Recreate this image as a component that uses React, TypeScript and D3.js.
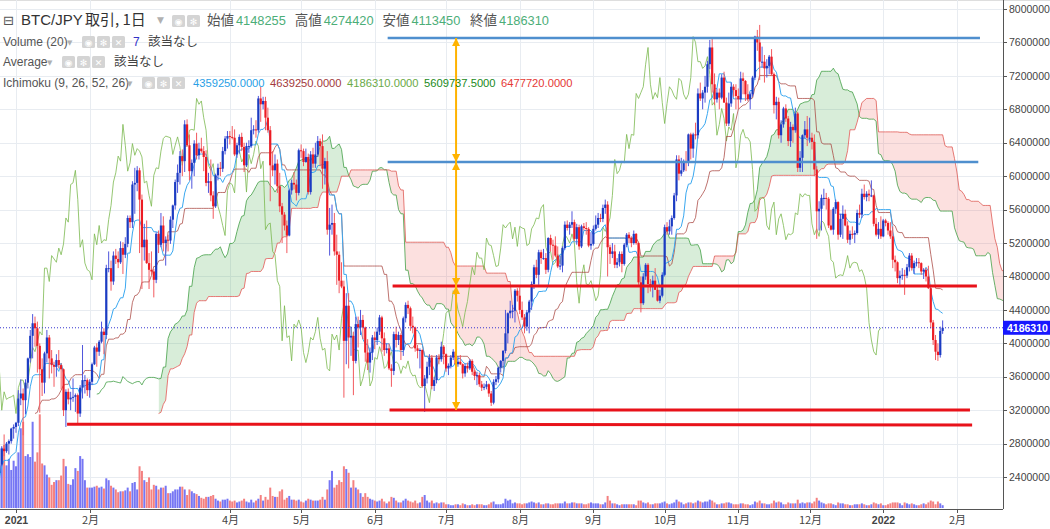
import * as d3 from "d3";

// one row per day: open, high, low, close (in 10,000 JPY), volume
type Row = [number, number, number, number, number];

const FIRST_DAY = "2020-12-15";
const PRICE_UNIT = 10000;

const dec20: Row[] = [
  [199, 202, 197, 201, 32], [201, 222, 200, 220, 55], [220, 245, 219, 236, 70], [236, 241, 229, 239, 48], [239, 249, 237, 247, 40],
  [247, 250, 238, 243, 38], [243, 250, 229, 235, 45], [235, 247, 232, 246, 42], [246, 250, 232, 240, 50], [240, 247, 235, 245, 40],
  [245, 257, 242, 255, 45], [255, 277, 253, 274, 65], [274, 291, 265, 271, 68], [271, 282, 269, 280, 46], [280, 285, 267, 283, 53],
  [283, 299, 280, 298, 41], [298, 303, 286, 300, 51],
];
const jan21: Row[] = [
  [300, 306, 293, 305, 45], [305, 344, 301, 334, 60], [334, 357, 326, 340, 86], [340, 346, 290, 332, 93], [332, 357, 315, 353, 56],
  [353, 383, 346, 382, 58], [382, 416, 377, 409, 55], [409, 435, 382, 424, 93], [424, 432, 396, 418, 50], [418, 426, 365, 397, 60],
  [397, 400, 317, 369, 101], [369, 382, 337, 353, 48], [353, 390, 340, 388, 46], [388, 416, 377, 407, 36], [407, 410, 358, 382, 33],
  [382, 392, 364, 374, 25], [374, 378, 348, 372, 28], [372, 387, 360, 380, 30], [380, 392, 370, 374, 30], [374, 376, 345, 369, 35],
  [369, 370, 313, 320, 53], [320, 345, 300, 342, 45], [342, 346, 327, 333, 26], [333, 342, 320, 335, 25], [335, 358, 330, 336, 31],
  [336, 340, 318, 338, 43], [338, 340, 304, 316, 40], [316, 350, 312, 347, 56], [347, 398, 334, 356, 53], [356, 362, 340, 356, 30],
  [356, 358, 337, 344, 22],
];
const feb21: Row[] = [
  [344, 357, 335, 354, 22], [354, 377, 350, 375, 22], [375, 397, 374, 395, 23], [395, 400, 372, 390, 24], [390, 404, 385, 402, 22],
  [402, 426, 400, 414, 23], [414, 418, 387, 410, 21], [410, 494, 405, 490, 32], [490, 510, 485, 490, 30], [490, 499, 463, 474, 24],
  [474, 510, 470, 505, 22], [505, 513, 495, 501, 20], [501, 510, 490, 497, 17], [497, 522, 495, 514, 18], [514, 521, 483, 506, 18],
  [506, 527, 502, 519, 19], [519, 553, 515, 550, 22], [550, 553, 538, 545, 18], [545, 594, 538, 590, 27], [590, 610, 555, 592, 28],
  [592, 612, 582, 607, 20], [607, 610, 508, 572, 45], [572, 578, 465, 515, 40], [515, 543, 499, 524, 30], [524, 547, 495, 496, 28],
  [496, 508, 465, 488, 33], [488, 510, 482, 486, 20], [486, 489, 455, 476, 25],
];
const mar21: Row[] = [
  [476, 533, 472, 531, 24], [531, 535, 508, 518, 20], [518, 556, 515, 541, 22], [541, 552, 510, 520, 22], [520, 528, 493, 524, 24],
  [524, 530, 510, 523, 16], [523, 552, 519, 548, 16], [548, 566, 538, 565, 18], [565, 596, 560, 593, 20], [593, 614, 580, 604, 20],
  [604, 630, 590, 624, 23], [624, 632, 600, 618, 23], [618, 667, 605, 662, 20], [662, 668, 635, 637, 14], [637, 650, 595, 606, 20],
  [606, 620, 585, 616, 18], [616, 643, 600, 639, 16], [639, 652, 620, 625, 15], [625, 640, 620, 633, 13], [633, 646, 628, 630, 11],
  [630, 636, 606, 623, 10], [623, 631, 588, 592, 12], [592, 604, 580, 594, 12], [594, 620, 570, 577, 13], [577, 582, 549, 564, 14],
  [564, 603, 562, 601, 10], [601, 615, 595, 610, 8], [610, 617, 600, 609, 7], [609, 635, 605, 630, 9], [630, 648, 626, 645, 9],
  [645, 654, 633, 648, 10],
];
const apr21: Row[] = [
  [648, 654, 638, 647, 8], [647, 660, 644, 646, 7], [646, 656, 624, 626, 8], [626, 640, 622, 637, 6], [637, 650, 627, 647, 7],
  [647, 652, 630, 635, 8], [635, 640, 605, 613, 10], [613, 640, 611, 636, 7], [636, 643, 628, 636, 6], [636, 670, 634, 655, 9],
  [655, 661, 650, 656, 6], [656, 667, 646, 655, 8], [655, 696, 652, 693, 10], [693, 707, 665, 686, 14], [686, 695, 680, 690, 8],
  [690, 695, 655, 670, 12], [670, 682, 652, 655, 9], [655, 660, 570, 613, 22], [613, 630, 600, 607, 13], [607, 626, 590, 615, 12],
  [615, 620, 580, 588, 12], [588, 604, 557, 564, 18], [564, 568, 520, 554, 20], [554, 557, 535, 541, 9], [541, 547, 508, 529, 11],
  [529, 585, 528, 583, 13], [583, 596, 578, 592, 9], [592, 605, 584, 590, 9], [590, 596, 571, 580, 8], [580, 633, 577, 631, 9],
];
const may21: Row[] = [
  [631, 638, 622, 630, 7], [630, 633, 612, 617, 6], [617, 633, 616, 623, 8], [623, 627, 578, 581, 10], [581, 630, 578, 626, 9],
  [626, 634, 610, 615, 8], [615, 640, 610, 626, 8], [626, 648, 623, 642, 8], [642, 645, 612, 636, 9], [636, 650, 585, 609, 12],
  [609, 622, 590, 618, 9], [618, 630, 530, 536, 20], [536, 562, 505, 542, 30], [542, 566, 530, 544, 40], [544, 556, 505, 510, 22],
  [510, 530, 470, 506, 25], [506, 510, 460, 475, 30], [475, 497, 466, 468, 28], [468, 475, 335, 403, 45], [403, 460, 375, 445, 42],
  [445, 460, 370, 407, 38], [407, 420, 385, 409, 22], [409, 414, 338, 379, 30], [379, 432, 376, 423, 22], [423, 432, 395, 419, 20],
  [419, 440, 410, 428, 16], [428, 434, 405, 419, 12], [419, 420, 378, 389, 16], [389, 405, 368, 377, 12], [377, 395, 365, 389, 10],
  [389, 410, 380, 407, 9],
];
const jun21: Row[] = [
  [407, 414, 393, 404, 8], [404, 419, 398, 414, 7], [414, 434, 410, 431, 8], [431, 433, 390, 406, 10], [406, 413, 385, 392, 7],
  [392, 400, 388, 394, 5], [394, 400, 368, 370, 7], [370, 375, 348, 367, 12], [367, 414, 362, 411, 11], [411, 420, 395, 404, 8],
  [404, 414, 398, 410, 6], [410, 412, 380, 392, 6], [392, 432, 385, 430, 8], [430, 449, 425, 446, 10], [446, 451, 435, 442, 8],
  [442, 444, 415, 421, 7], [421, 432, 412, 419, 6], [419, 420, 390, 394, 8], [394, 398, 382, 391, 5], [391, 394, 370, 392, 6],
  [392, 393, 347, 349, 12], [349, 362, 318, 358, 14], [358, 378, 352, 372, 8], [372, 387, 362, 383, 6], [383, 386, 345, 349, 8],
  [349, 360, 343, 356, 5], [356, 386, 352, 383, 6], [383, 387, 375, 381, 5], [381, 402, 378, 396, 6], [396, 398, 375, 387, 6],
];
const jul21: Row[] = [
  [387, 388, 366, 370, 4], [370, 376, 362, 373, 4], [373, 386, 370, 383, 3], [383, 393, 380, 390, 3], [390, 391, 370, 375, 4],
  [375, 385, 372, 378, 4], [378, 386, 374, 375, 3], [375, 376, 358, 364, 5], [364, 376, 360, 373, 4], [373, 377, 365, 370, 3],
  [370, 381, 368, 379, 3], [379, 381, 362, 366, 4], [366, 368, 356, 361, 3], [361, 366, 350, 362, 4], [362, 365, 348, 351, 4],
  [351, 355, 343, 347, 4], [347, 352, 344, 348, 3], [348, 355, 345, 351, 3], [351, 352, 336, 340, 4], [340, 343, 325, 329, 6],
  [329, 357, 327, 354, 7], [354, 361, 350, 357, 4], [357, 372, 353, 371, 4], [371, 380, 365, 379, 4], [379, 392, 370, 391, 5],
  [391, 440, 388, 412, 10], [412, 437, 400, 436, 8], [436, 451, 430, 439, 9], [439, 446, 430, 439, 5], [439, 465, 425, 463, 6],
  [463, 466, 450, 457, 5],
];
const aug21: Row[] = [
  [457, 467, 435, 440, 5], [440, 450, 428, 431, 4], [431, 435, 412, 420, 5], [420, 440, 415, 437, 5], [437, 452, 412, 450, 6],
  [450, 474, 440, 471, 7], [471, 494, 465, 491, 6], [491, 500, 478, 482, 5], [482, 512, 470, 509, 6], [509, 512, 495, 502, 4],
  [502, 513, 500, 502, 4], [502, 508, 483, 488, 5], [488, 527, 485, 526, 5], [526, 530, 510, 518, 4], [518, 524, 500, 517, 4],
  [517, 528, 503, 505, 5], [505, 516, 490, 492, 5], [492, 505, 488, 493, 5], [493, 516, 485, 514, 5], [514, 546, 512, 542, 7],
  [542, 547, 535, 538, 5], [538, 545, 530, 542, 5], [542, 558, 538, 545, 6], [545, 548, 522, 525, 6], [525, 543, 518, 539, 5],
  [539, 542, 512, 516, 5], [516, 542, 514, 540, 5], [540, 544, 535, 538, 4], [538, 545, 530, 537, 4], [537, 539, 515, 517, 5],
  [517, 533, 512, 519, 6],
];
const sep21: Row[] = [
  [519, 541, 517, 537, 5], [537, 553, 535, 542, 5], [542, 556, 538, 550, 5], [550, 555, 545, 549, 4], [549, 566, 545, 562, 4],
  [562, 572, 555, 566, 6], [566, 570, 480, 515, 13], [515, 518, 495, 507, 8], [507, 520, 502, 510, 5], [510, 518, 490, 494, 5],
  [494, 502, 490, 497, 4], [497, 510, 492, 507, 3], [507, 510, 485, 495, 4], [495, 520, 493, 518, 4], [518, 532, 515, 530, 4],
  [530, 533, 520, 526, 4], [526, 528, 515, 520, 4], [520, 535, 518, 531, 4], [531, 532, 518, 520, 3], [520, 521, 470, 473, 8],
  [473, 480, 437, 448, 8], [448, 484, 446, 480, 6], [480, 496, 476, 494, 5], [494, 496, 460, 471, 6], [471, 477, 462, 470, 4],
  [470, 481, 455, 475, 4], [475, 490, 464, 464, 5], [464, 468, 450, 451, 5], [451, 464, 448, 457, 5], [457, 485, 455, 482, 6],
];
const oct21: Row[] = [
  [482, 542, 480, 539, 7], [539, 545, 530, 534, 5], [534, 548, 530, 540, 4], [540, 553, 530, 550, 5], [550, 580, 548, 577, 6],
  [577, 625, 570, 620, 9], [620, 625, 595, 603, 7], [603, 622, 600, 607, 6], [607, 620, 605, 618, 4], [618, 630, 606, 616, 5],
  [616, 651, 612, 650, 6], [650, 652, 620, 633, 6], [633, 652, 622, 650, 5], [650, 664, 644, 649, 6], [649, 705, 645, 699, 8],
  [699, 712, 690, 693, 7], [693, 703, 680, 700, 6], [700, 720, 688, 707, 7], [707, 738, 700, 734, 7], [734, 763, 728, 754, 9],
  [754, 765, 700, 710, 8], [710, 723, 685, 692, 6], [692, 705, 688, 700, 4], [700, 705, 680, 694, 4], [694, 722, 692, 718, 5],
  [718, 725, 688, 688, 5], [688, 694, 660, 663, 6], [663, 700, 660, 687, 6], [687, 712, 683, 707, 5], [707, 710, 695, 703, 4],
  [703, 710, 680, 696, 4],
];
const nov21: Row[] = [
  [696, 705, 680, 692, 4], [692, 725, 688, 717, 5], [717, 724, 698, 714, 5], [714, 715, 690, 698, 4], [698, 710, 690, 692, 4],
  [692, 700, 680, 698, 3], [698, 720, 695, 718, 4], [718, 768, 715, 767, 7], [767, 775, 750, 760, 6], [760, 781, 715, 737, 8],
  [737, 755, 730, 737, 5], [737, 745, 712, 729, 5], [729, 740, 718, 732, 4], [732, 745, 722, 743, 4], [743, 752, 720, 722, 5],
  [722, 724, 675, 685, 8], [685, 695, 668, 689, 6], [689, 694, 645, 649, 7], [649, 667, 640, 662, 6], [662, 683, 658, 681, 4],
  [681, 686, 665, 669, 4], [669, 672, 636, 642, 6], [642, 665, 635, 659, 5], [659, 662, 640, 655, 5], [655, 682, 652, 675, 5],
  [675, 677, 605, 610, 9], [610, 630, 605, 622, 5], [622, 650, 605, 649, 6], [649, 666, 645, 656, 5], [656, 672, 636, 646, 6],
];
const dec21: Row[] = [
  [646, 670, 640, 646, 6], [646, 652, 632, 641, 5], [641, 650, 600, 608, 7], [608, 612, 525, 558, 11], [558, 570, 535, 561, 8],
  [561, 578, 535, 574, 6], [574, 585, 565, 574, 5], [574, 580, 560, 573, 4], [573, 575, 538, 541, 5], [541, 560, 535, 536, 5],
  [536, 563, 530, 561, 4], [561, 572, 555, 569, 3], [569, 570, 524, 530, 6], [530, 555, 527, 549, 5], [549, 565, 525, 555, 5],
  [555, 560, 540, 541, 4], [541, 546, 520, 524, 4], [524, 535, 518, 531, 3], [531, 540, 525, 530, 3], [530, 535, 520, 532, 4],
  [532, 560, 530, 556, 4], [556, 566, 550, 554, 4], [554, 585, 550, 579, 5], [579, 590, 572, 575, 4], [575, 582, 570, 579, 3],
  [579, 584, 570, 577, 3], [577, 595, 575, 577, 4], [577, 578, 540, 543, 6], [543, 550, 528, 530, 5], [530, 545, 525, 537, 4],
  [537, 552, 525, 528, 5],
];
const jan22: Row[] = [
  [528, 548.85, 527, 547, 3], [547, 549, 540, 544, 3], [544, 546, 530, 535, 4], [535, 545, 525, 528, 5], [528, 540, 490, 500, 6],
  [500, 505, 486, 497, 6], [497, 498, 472, 478, 6], [478, 487, 470, 481, 5], [481, 490, 476, 482, 3], [482, 488, 458, 481, 6],
  [481, 495, 478, 491, 5], [491, 508, 486, 505, 4], [505, 508, 487, 490, 5], [490, 499, 483, 496, 4], [496, 502, 492, 497, 3],
  [497, 502, 490, 496, 3], [496, 497, 482, 486, 4], [486, 490, 477, 488, 5], [488, 490, 474, 480, 4], [480, 492.85, 465, 466, 6],
  [466, 470, 418, 425, 8], [425, 428, 398, 404, 7], [404, 410, 380, 390, 4], [390, 400, 379, 386, 7], [386, 420, 383, 414.8255, 5],
  [414.8255, 427.442, 411.345, 418.631, 3],
];

const allMonths: Row[][] = [dec20, jan21, feb21, mar21, apr21, may21, jun21, jul21, aug21, sep21, oct21, nov21, dec21, jan22];

const priceTicks = [2400000, 2800000, 3200000, 3600000, 4000000, 4400000, 4800000, 5200000, 5600000, 6000000, 6400000, 6800000, 7200000, 7600000, 8000000];
const timeTickDates = ["2021-01-01", "2021-02-01", "2021-04-01", "2021-05-01", "2021-06-01", "2021-07-01", "2021-08-01", "2021-09-01", "2021-10-01", "2021-11-01", "2021-12-01", "2022-01-01", "2022-02-01"];
const timeTickLabels = ["2021", "2月", "4月", "5月", "6月", "7月", "8月", "9月", "10月", "11月", "12月", "2022", "2月"];
const yearLabels = ["2021", "2022"];

const lastPrice = 4186310;
const ohlcNames = ["始値", "高値", "安値", "終値"];
const ohlcValues = ["4148255", "4274420", "4113450", "4186310"];
const ichimokuValues = ["4359250.0000", "4639250.0000", "4186310.0000", "5609737.5000", "6477720.0000"];

// hand-drawn levels: start date, end date, price at start, price at end
const blueLevels = [
  { from: "2021-06-06T10:00:00Z", to: "2022-02-10T17:00:00Z", p0: 7653000, p1: 7653000 },
  { from: "2021-06-06T10:00:00Z", to: "2022-02-10T00:00:00Z", p0: 6169000, p1: 6169000 },
];
const redLevels = [
  { from: "2021-06-08T12:00:00Z", to: "2022-02-09T10:00:00Z", p0: 4686000, p1: 4686000 },
  { from: "2021-06-07T05:00:00Z", to: "2022-02-06T12:00:00Z", p0: 3202000, p1: 3202000 },
  { from: "2021-01-22T12:00:00Z", to: "2022-02-07T10:00:00Z", p0: 3033000, p1: 3022000 },
];
const arrowDate = "2021-07-05T05:00:00Z";
const arrowPrices = [7653000, 6169000, 4686000, 3202000];

const LATIN = "'Liberation Sans', Arial, sans-serif";
const CJK = "'Noto Sans CJK JP', 'Noto Sans', sans-serif";

function IconBoxes({ x, y, glyphs }: { x: number; y: number; glyphs: string[] }) {
  return (
    <g>
      {glyphs.map((g, k) => (
        <g key={k} transform={`translate(${x + k * 15},${y})`}>
          <rect width={13} height={12} rx={1.5} fill="#d4d4d4" />
          <text x={6.5} y={9.5} textAnchor="middle" fontSize={9} fill="#ffffff" fontFamily="DejaVu Sans">{g}</text>
        </g>
      ))}
    </g>
  );
}

export default function App() {
  const W = 1050;
  const H = 529;
  const plotRight = 1003;
  const plotBottom = 509;

  const firstDay = new Date(FIRST_DAY + "T00:00:00Z");
  const candles = allMonths.flat().map((r, i) => ({
    date: d3.utcDay.offset(firstDay, i),
    open: r[0] * PRICE_UNIT,
    high: r[1] * PRICE_UNIT,
    low: r[2] * PRICE_UNIT,
    close: r[3] * PRICE_UNIT,
    volume: r[4],
  }));

  const x = d3.scaleUtc()
    .domain([new Date("2020-12-25T06:22:00Z"), new Date("2022-02-20T09:36:00Z")])
    .range([0, plotRight]);
  const y = d3.scaleLinear().domain([2018000, 8108000]).range([plotBottom, 0]);
  const yVol = d3.scaleLinear().domain([0, 110]).range([508, 406]);
  const dayX = (i: number) => x(d3.utcDay.offset(firstDay, i));

  // ichimoku (9, 26, 52, 26)
  const DISP = 26;
  const midpoint = (i: number, n: number): number | null => {
    if (i < n - 1) return null;
    const w = candles.slice(i - n + 1, i + 1);
    return ((d3.max(w, (c) => c.high) as number) + (d3.min(w, (c) => c.low) as number)) / 2;
  };
  const conv = candles.map((_, i) => midpoint(i, 9));
  const base = candles.map((_, i) => midpoint(i, 26));
  type Pt = { i: number; v: number | null };
  const convPts: Pt[] = conv.map((v, i) => ({ i, v }));
  const basePts: Pt[] = base.map((v, i) => ({ i, v }));
  const lagPts: Pt[] = candles.map((c, i) => ({ i: i - DISP, v: c.close }));
  const lead = candles.map((_, i) => ({
    i: i + DISP,
    a: conv[i] != null && base[i] != null ? ((conv[i] as number) + (base[i] as number)) / 2 : null,
    b: midpoint(i, 52),
  }));
  const spanAPts: Pt[] = lead.map((d) => ({ i: d.i, v: d.a }));
  const spanBPts: Pt[] = lead.map((d) => ({ i: d.i, v: d.b }));
  type Lead = (typeof lead)[number];
  const cloud = lead.filter((d) => d.a != null && d.b != null);

  const line = d3.line<Pt>().defined((d) => d.v != null).x((d) => dayX(d.i)).y((d) => y(d.v as number));
  const cloudArea = d3.area<Lead>().x((d) => dayX(d.i)).y0((d) => y(d.b as number)).y1((d) => y(d.a as number));
  const aboveB = d3.area<Lead>().x((d) => dayX(d.i)).y0(0).y1((d) => y(d.b as number));
  const belowB = d3.area<Lead>().x((d) => dayX(d.i)).y0(plotBottom).y1((d) => y(d.b as number));

  const upBody = "#1b3cc2";
  const downBody = "#ec1c24";
  const upWick = "#4f55dc";
  const downWick = "#f25a5f";
  const yLast = y(lastPrice);
  const xArrow = x(new Date(arrowDate));

  return (
    <div style={{ position: "absolute", left: 0, top: 0 }}>
      <svg width={W} height={H} style={{ display: "block", background: "#ffffff" }}>
        <defs>
          <clipPath id="plot">
            <rect x={0} y={0} width={plotRight} height={plotBottom} />
          </clipPath>
          <clipPath id="aboveB">
            <path d={aboveB(cloud) || ""} />
          </clipPath>
          <clipPath id="belowB">
            <path d={belowB(cloud) || ""} />
          </clipPath>
          <marker id="arrowHead" viewBox="0 0 8 8" refX={8} refY={4} markerWidth={8} markerHeight={8}
            markerUnits="userSpaceOnUse" orient="auto-start-reverse">
            <path d="M0,0 L8,4 L0,8 z" fill="#ffb300" />
          </marker>
        </defs>

        <line x1={0} x2={W} y1={0.5} y2={0.5} stroke="#dedede" />

        {/* grid */}
        <g stroke="#e8ecf1" strokeWidth={1}>
          {priceTicks.map((p) => (
            <line key={p} x1={0} x2={plotRight} y1={Math.round(y(p)) + 0.5} y2={Math.round(y(p)) + 0.5} />
          ))}
          {timeTickDates.map((d) => {
            const xx = Math.round(x(new Date(d + "T00:00:00Z"))) + 0.5;
            return <line key={d} x1={xx} x2={xx} y1={0} y2={plotBottom} />;
          })}
        </g>

        <g clipPath="url(#plot)">
          {/* volume */}
          {candles.map((c, i) => (
            <rect key={i} x={dayX(i) - 1} y={yVol(c.volume)} width={2} height={yVol(0) - yVol(c.volume)}
              fill={c.close >= c.open ? "#7676f4" : "#f48080"} />
          ))}

          {/* cloud */}
          <path d={cloudArea(cloud) || ""} fill="rgba(76,175,80,0.22)" clipPath="url(#aboveB)" />
          <path d={cloudArea(cloud) || ""} fill="rgba(239,83,80,0.18)" clipPath="url(#belowB)" />
          <path d={line(spanAPts) || ""} fill="none" stroke="#43a047" strokeOpacity={0.8} strokeWidth={1} />
          <path d={line(spanBPts) || ""} fill="none" stroke="#e0504c" strokeOpacity={0.75} strokeWidth={1} />
          <path d={line(lagPts) || ""} fill="none" stroke="#7cb950" strokeOpacity={0.8} strokeWidth={1} />
          <path d={line(basePts) || ""} fill="none" stroke="#a8443f" strokeOpacity={0.75} strokeWidth={1} />
          <path d={line(convPts) || ""} fill="none" stroke="#3aa8f0" strokeWidth={1} />

          {/* candles */}
          {candles.map((c, i) => {
            const cx = dayX(i);
            const rising = c.close >= c.open;
            const top = y(Math.max(c.open, c.close));
            const bot = y(Math.min(c.open, c.close));
            return (
              <g key={i}>
                <line x1={cx} x2={cx} y1={y(c.high)} y2={y(c.low)} stroke={rising ? upWick : downWick} strokeWidth={1} />
                <rect x={cx - 1.1} y={top} width={2.2} height={Math.max(1, bot - top)} fill={rising ? upBody : downBody} />
              </g>
            );
          })}

          {/* drawn levels */}
          {blueLevels.map((l, k) => (
            <line key={k} x1={x(new Date(l.from))} x2={x(new Date(l.to))} y1={y(l.p0)} y2={y(l.p1)}
              stroke="#4f8fce" strokeWidth={2.6} />
          ))}
          {redLevels.map((l, k) => (
            <line key={k} x1={x(new Date(l.from))} x2={x(new Date(l.to))} y1={y(l.p0)} y2={y(l.p1)}
              stroke="#e8121a" strokeWidth={3} />
          ))}
          {d3.pairs(arrowPrices).map(([a, b], k) => (
            <line key={k} x1={xArrow} x2={xArrow} y1={y(a)} y2={y(b)} stroke="#ffb300" strokeWidth={2}
              markerStart="url(#arrowHead)" markerEnd="url(#arrowHead)" />
          ))}

          {/* last price */}
          <line x1={0} x2={plotRight} y1={yLast} y2={yLast} stroke="#3434d0" strokeWidth={1} strokeDasharray="1 2" />
        </g>

        {/* axes */}
        <line x1={plotRight + 0.5} x2={plotRight + 0.5} y1={0} y2={plotBottom} stroke="#555" />
        <line x1={0} x2={plotRight} y1={plotBottom + 0.5} y2={plotBottom + 0.5} stroke="#555" />
        {priceTicks.map((p) => (
          <g key={p}>
            <line x1={plotRight} x2={plotRight + 4} y1={Math.round(y(p)) + 0.5} y2={Math.round(y(p)) + 0.5} stroke="#555" />
            <text x={plotRight + 6} y={y(p)} dy="0.35em" fontFamily={LATIN} fontSize={10.5} fill="#444">{p}</text>
          </g>
        ))}
        {timeTickDates.map((d, k) => {
          const xx = Math.round(x(new Date(d + "T00:00:00Z"))) + 0.5;
          const bold = yearLabels.includes(timeTickLabels[k]);
          return (
            <g key={d}>
              <line x1={xx} x2={xx} y1={plotBottom} y2={plotBottom + 4} stroke="#555" />
              <text x={xx} y={524} textAnchor="middle" fontFamily={bold ? LATIN : CJK} fontSize={bold ? 10.5 : 11}
                fontWeight={bold ? 700 : 400} fill="#444">{timeTickLabels[k]}</text>
            </g>
          );
        })}
        <rect x={plotRight} y={yLast - 7} width={W - plotRight} height={14} fill="#1717ff" />
        <text x={plotRight + 4} y={yLast} dy="0.36em" fontFamily={LATIN} fontSize={10.5} fontWeight={700} fill="#ffffff">{lastPrice}</text>

        {/* legend header */}
        <g>
          <text x={3} y={25} fontFamily="DejaVu Sans" fontSize={13} fill="#555">⊟</text>
          <text x={21} y={25} fontFamily={LATIN} fontSize={15} fill="#333">BTC/JPY</text>
          <text x={85} y={25} fontFamily={CJK} fontSize={15} fill="#333">取引, 1日</text>
          <text x={157} y={23} fontFamily="DejaVu Sans" fontSize={9} fill="#b0b0b0">▼</text>
          <IconBoxes x={172} y={15} glyphs={["◉", "✻"]} />
          {ohlcNames.map((n, k) => (
            <g key={n} transform={`translate(${207 + k * 87.7},0)`}>
              <text x={0} y={25} fontFamily={CJK} fontSize={13.5} fill="#555">{n}</text>
              <text x={29} y={25} fontFamily={LATIN} fontSize={12.8} fill="#4cae78">{ohlcValues[k]}</text>
            </g>
          ))}

          <text x={3} y={46} fontFamily={LATIN} fontSize={12} fill="#555">Volume (20)</text>
          <text x={67} y={45} fontFamily="DejaVu Sans" fontSize={7} fill="#b0b0b0">▼</text>
          <IconBoxes x={82} y={36} glyphs={["◉", "✻", "✕"]} />
          <text x={133} y={46} fontFamily={LATIN} fontSize={12} fill="#3232c8">7</text>
          <text x={148} y={46} fontFamily={CJK} fontSize={12.5} fill="#444">該当なし</text>

          <text x={3} y={66} fontFamily={LATIN} fontSize={12} fill="#555">Average</text>
          <text x={47} y={65} fontFamily="DejaVu Sans" fontSize={7} fill="#b0b0b0">▼</text>
          <IconBoxes x={62} y={56} glyphs={["◉", "✻", "✕"]} />
          <text x={114} y={66} fontFamily={CJK} fontSize={12.5} fill="#444">該当なし</text>

          <text x={3} y={87} fontFamily={LATIN} fontSize={12} fill="#555">Ichimoku (9, 26, 52, 26)</text>
          <text x={127} y={86} fontFamily="DejaVu Sans" fontSize={7} fill="#b0b0b0">▼</text>
          <IconBoxes x={142} y={77} glyphs={["◉", "✻", "✕"]} />
          {ichimokuValues.map((v, k) => (
            <text key={k} x={193 + k * 77} y={87} fontFamily={LATIN} fontSize={11.2}
              fill={["#2a9fe6", "#a33b3b", "#6aaa48", "#218a21", "#e53935"][k]}>{v}</text>
          ))}
        </g>
      </svg>
    </div>
  );
}
